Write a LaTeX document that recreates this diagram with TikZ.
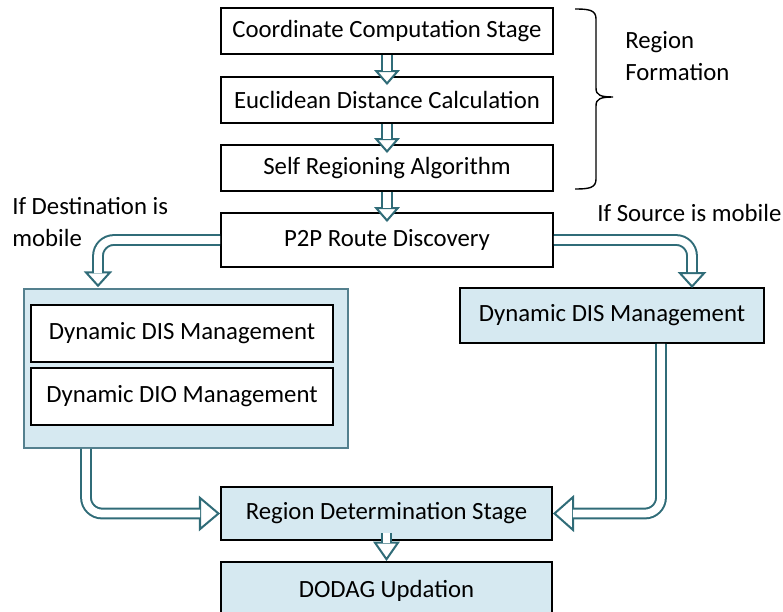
\documentclass[tikz,border=0pt]{standalone}
\usepackage{fontspec}
\setmainfont{Carlito}
\usetikzlibrary{arrows.meta,calc}

\definecolor{pipeteal}{RGB}{48,108,120}
\definecolor{stagefill}{RGB}{214,233,241}
\definecolor{groupline}{RGB}{84,128,142}

\tikzset{
  stage/.style={draw=black, line width=1.1pt, fill=white, inner sep=0pt, font=\fontsize{14.1}{17}\selectfont},
  note/.style={inner sep=0pt, align=left, font=\fontsize{14.1}{18.5}\selectfont},
  pipe/.style={draw=pipeteal, line width=1.15pt, double=white, double distance=4.4pt, rounded corners=0.32cm},
  head/.style 2 args={draw=pipeteal, line width=1.15pt, -{Triangle[width=#1, length=#2, fill=white]}}
}

\begin{document}
\begin{tikzpicture}[x=0.02cm, y=-0.02cm]
\useasboundingbox (0,0) rectangle (783,611);

% Region formation
\node[stage, minimum width=6.64cm, minimum height=0.92cm] (coord) at (387,31) {Coordinate Computation Stage};
\node[stage, minimum width=6.64cm, minimum height=0.92cm] (euclid) at (387,100) {Euclidean Distance Calculation};
\node[stage, minimum width=6.64cm, minimum height=0.92cm] (selfreg) at (387,168) {Self Regioning Algorithm};
\node[stage, minimum width=6.64cm, minimum height=1.08cm] (p2p) at (387,240) {P2P Route Discovery};

% brace and its label
\draw[line width=0.8pt] (575,9) .. controls (589,9) and (596,10) .. (596,19) -- (596,88)
  .. controls (596,95) and (600,97) .. (613,97) .. controls (600,97) and (596,99) .. (596,106)
  -- (596,179) .. controls (596,188) and (589,189) .. (575,189);
\node[note, anchor=west] (regform) at (625,56) {Region\\Formation};

% mobility cases
\node[note, anchor=west] (destnote) at (12,222) {If Destination is\\mobile};
\node[note, anchor=west] (srcnote) at (597,213) {If Source is mobile};

\node[draw=groupline, fill=stagefill, line width=0.9pt, minimum width=6.48cm, minimum height=3.18cm] (group) at (186,368.5) {};
\node[stage, minimum width=6.04cm, minimum height=1.14cm] (ldis) at (182,333.5) {Dynamic DIS Management};
\node[stage, minimum width=6.04cm, minimum height=1.14cm] (dio) at (182,396.5) {Dynamic DIO Management};
\node[stage, fill=stagefill, minimum width=6.08cm, minimum height=1.1cm] (rdis) at (612,315.5) {Dynamic DIS Management};

% region determination
\node[stage, fill=stagefill, minimum width=6.62cm, minimum height=1.06cm] (regdet) at (386.5,513.5) {Region Determination Stage};
\node[stage, fill=stagefill, minimum width=6.62cm, minimum height=1.16cm] (dodag) at (386.5,591) {DODAG Updation};

% block arrows: head first, then the shaft
\draw[head={14.5pt}{8.5pt}] ($(euclid.north)+(0,-6)$) -- ($(euclid.north)+(0,9)$);
\draw[pipe] (coord.south) -- ($(euclid.north)+(0,-5)$);
\draw[head={14.5pt}{8.5pt}] ($(selfreg.north)+(0,-6)$) -- ($(selfreg.north)+(0,9)$);
\draw[pipe] (euclid.south) -- ($(selfreg.north)+(0,-5)$);
\draw[head={14.5pt}{8.5pt}] ($(p2p.north)+(0,-5)$) -- ($(p2p.north)+(0,10)$);
\draw[pipe] (selfreg.south) -- ($(p2p.north)+(0,-4)$);

\draw[head={16pt}{9pt}] ($(group.north)+(-88,-16)$) -- ($(group.north)+(-88,-1)$);
\draw[pipe] (p2p.west) -| ($(group.north)+(-88,-15)$);
\draw[head={16pt}{9pt}] ($(rdis.north)+(80,-16)$) -- ($(rdis.north)+(80,1)$);
\draw[pipe] (p2p.east) -| ($(rdis.north)+(80,-15)$);

\draw[head={20pt}{12pt}] ($(regdet.west)+(-21,0)$) -- (regdet.west);
\draw[pipe] ($(group.south)+(-100,0)$) |- ($(regdet.west)+(-20,0)$);
\draw[head={21pt}{12pt}] ($(regdet.east)+(21,0)$) -- (regdet.east);
\draw[pipe] ($(rdis.south)+(49,0)$) |- ($(regdet.east)+(20,0)$);

\draw[head={15pt}{11pt}] ($(dodag.north)+(0,-19)$) -- (dodag.north);
\draw[pipe] ($(regdet.south)+(0,-8)$) -- ($(dodag.north)+(0,-18)$);
\end{tikzpicture}
\end{document}
